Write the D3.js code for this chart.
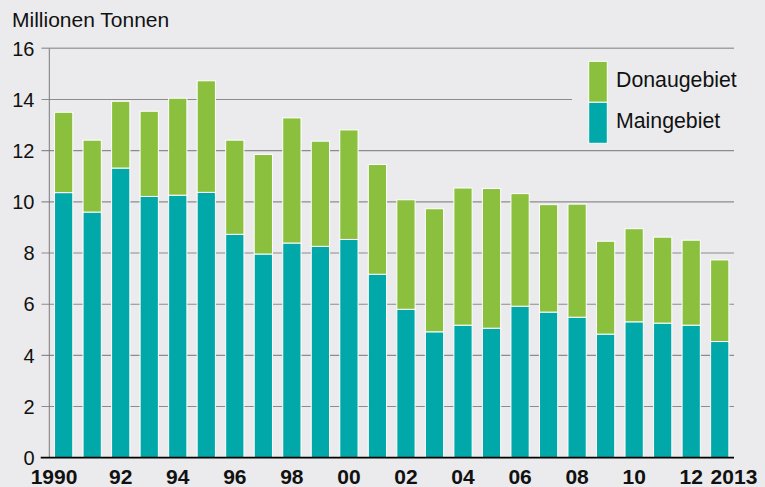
<!DOCTYPE html>
<html>
<head>
<meta charset="utf-8">
<script src="https://cdn.jsdelivr.net/npm/d3@7"></script>
<style>
  html, body { margin: 0; padding: 0; background: #ebebed; }
  svg { display: block; font-family: "Liberation Sans", Arial, Helvetica, sans-serif; }
</style>
</head>
<body>
<svg id="chart" width="765" height="487"></svg>
<script>
const years = ["1990","1991","1992","1993","1994","1995","1996","1997","1998","1999","2000","2001","2002","2003","2004","2005","2006","2007","2008","2009","2010","2011","2012","2013"];
const yearLabels = ["1990","","92","","94","","96","","98","","00","","02","","04","","06","","08","","10","","12","2013"];
const maingebiet = [10.36,9.60,11.32,10.21,10.26,10.37,8.73,7.96,8.39,8.26,8.53,7.17,5.80,4.92,5.18,5.06,5.92,5.69,5.49,4.83,5.31,5.26,5.18,4.54];
const gesamt     = [13.50,12.41,13.93,13.54,14.05,14.73,12.41,11.85,13.28,12.37,12.81,11.46,10.08,9.73,10.54,10.52,10.32,9.89,9.91,8.46,8.95,8.62,8.50,7.73];
const donaugebiet = gesamt.map((t, i) => +(t - maingebiet[i]).toFixed(2));
const yTicks = [0,2,4,6,8,10,12,14,16];
const seriesNames = ["Donaugebiet","Maingebiet"];
const colors = { Donaugebiet: "#8bc03e", Maingebiet: "#00a8a9" };
const unitLabel = "Millionen Tonnen";

const svg = d3.select("#chart");
const x = d3.scaleBand().domain(years).range([49.4, 734]).paddingInner(0.36).paddingOuter(0.18);
const y = d3.scaleLinear().domain([0, 16]).range([457.7, 48.3]);

// gridlines
const legendLeft = 572;
svg.append("g").selectAll("line").data(yTicks.filter(d => d > 0)).join("line")
  .attr("x1", 41.5)
  .attr("x2", d => d === 14 ? legendLeft : 734)
  .attr("y1", d => y(d)).attr("y2", d => y(d))
  .attr("stroke", d => d === 16 ? "#a2a2a4" : "#8c8c8e")
  .attr("stroke-width", d => d === 16 ? 1.4 : 1.1);

// y axis line
svg.append("line").attr("x1", 49.3).attr("x2", 49.3).attr("y1", y(16)).attr("y2", y(0))
  .attr("stroke", "#7a7a7c").attr("stroke-width", 1);

// y tick labels
svg.append("g").selectAll("text").data(yTicks).join("text")
  .attr("x", 34.5).attr("y", d => y(d)).attr("dy", "0.36em")
  .attr("text-anchor", "end").attr("font-size", 20).attr("fill", "#111")
  .text(d => d);

// stacked bars
const rows = years.map((yr, i) => ({ year: yr, Maingebiet: maingebiet[i], Donaugebiet: donaugebiet[i] }));
const stack = d3.stack().keys(["Maingebiet", "Donaugebiet"])(rows);
svg.append("g").selectAll("g").data(stack).join("g")
  .attr("fill", d => colors[d.key])
  .selectAll("rect").data(d => d).join("rect")
  .attr("x", d => x(d.data.year))
  .attr("width", x.bandwidth())
  .attr("y", d => y(d[1]))
  .attr("height", d => y(d[0]) - y(d[1]))
  .attr("stroke", "#ffffff").attr("stroke-width", 1);

// baseline
svg.append("line").attr("x1", 40.7).attr("x2", 734).attr("y1", y(0)).attr("y2", y(0))
  .attr("stroke", "#000").attr("stroke-width", 1.8);

// x labels
svg.append("g").selectAll("text").data(years).join("text")
  .attr("x", (d, i) => {
    if (i === 0) return x(d) + x.bandwidth() + 4.6;
    if (i === years.length - 1) return x(d);
    return x(d) + x.bandwidth() / 2;
  })
  .attr("text-anchor", (d, i) => i === 0 ? "end" : (i === years.length - 1 ? "start" : "middle"))
  .attr("y", 484)
  .attr("font-size", 21).attr("font-weight", "bold").attr("fill", "#111")
  .text((d, i) => yearLabels[i]);

// unit label
svg.append("text").attr("x", 12).attr("y", 26.7).attr("font-size", 21).attr("fill", "#111").text(unitLabel);

// legend
const lg = svg.append("g");
const legendX = 588.7, legendTop = 61.3, boxH = 41, boxW = 18.6;
seriesNames.forEach((name, i) => {
  lg.append("rect").attr("x", legendX).attr("y", legendTop + i * boxH)
    .attr("width", boxW).attr("height", boxH)
    .attr("fill", colors[name]).attr("stroke", "#fff").attr("stroke-width", 1);
  lg.append("text").attr("x", 616).attr("y", legendTop + i * boxH + 26)
    .attr("font-size", 21.3).attr("fill", "#111").text(name);
});
</script>
</body>
</html>
